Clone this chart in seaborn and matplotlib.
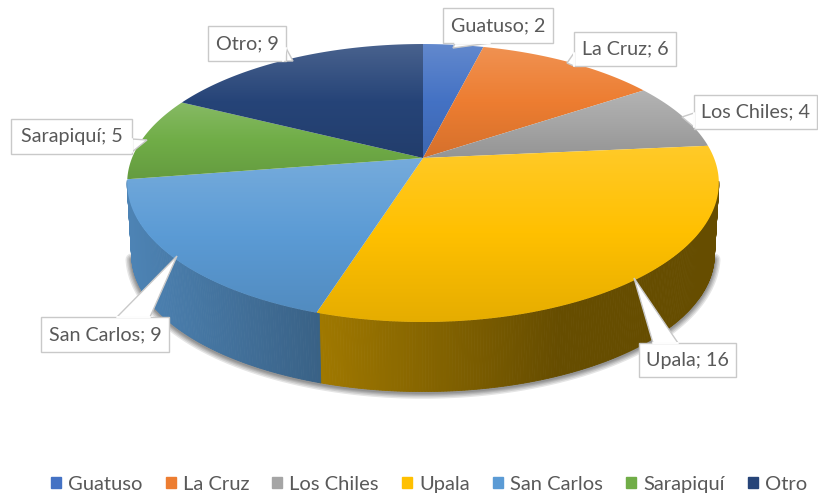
import numpy as np
import seaborn as sns
import matplotlib.pyplot as plt
from matplotlib.patches import Patch, Polygon

# data
cantones = ['Guatuso', 'La Cruz', 'Los Chiles', 'Upala', 'San Carlos', 'Sarapiquí', 'Otro']
valores = [2, 6, 4, 16, 9, 5, 9]
colores = ['#4472C4', '#ED7D31', '#A5A5A5', '#FFC000', '#5B9BD5', '#70AD47', '#264478']

# label boxes (x0, x1, y0, y1) and their little callout tails, in pixels
cajas = {
    'Guatuso': (443, 553, 8, 43),
    'La Cruz': (574, 676, 32, 66),
    'Los Chiles': (694, 817, 95, 129),
    'Upala': (639, 736, 343, 377),
    'San Carlos': (41, 169, 317, 352),
    'Sarapiquí': (11, 132, 119, 154),
    'Otro': (208, 286, 26, 61),
}
colas = {
    'Guatuso': [(490, 43), (453, 48), (455, 43)],
    'La Cruz': [(574, 66), (567, 63), (574, 53)],
    'Los Chiles': [(694, 127), (682, 117), (694, 113)],
    'Upala': [(653, 343), (634, 278), (678, 343)],
    'San Carlos': [(117, 317), (177, 256), (150, 317)],
    'Sarapiquí': [(132, 152), (147, 140), (132, 139)],
    'Otro': [(286, 48), (293, 61), (283, 61)],
}

sns.set_theme(style='white')
plt.rcParams['font.family'] = ['Lato', 'DejaVu Sans']
paleta = sns.color_palette(colores)

fig, ax = plt.subplots(figsize=(8.18, 4.98), dpi=100)
ax.set_position([0, 0, 1, 1])

# pie gives the slice angles, then it gets redrawn in perspective
wedges, _ = ax.pie(valores, startangle=90, counterclock=False)
angulos = [(w.theta1, w.theta2) for w in wedges]
for w in wedges:
    w.remove()
ax.set_aspect('auto')

# perspective of the disc
cx, cy = 423, 158
k, a, b = 0.18, 134.5, 291.0


def proyecta(theta, escala=1.0, dy=0.0):
    t = np.radians(theta)
    u, v = np.cos(t), np.sin(t)
    d = 1 + k * v
    return cx + escala * b * u / d, cy - escala * a * v / d + dy


def sombra_lado(x):
    return np.interp(x, [127, 317, 560, 719], [0.85, 0.63, 0.40, 0.40])


ESC, PROF = 0.985, 72

# soft shadow under the rim
th = np.linspace(-12, -168, 200)
xs, ys = proyecta(th, ESC, PROF)
for lw in [9, 7, 5, 3.5, 2]:
    ax.plot(xs, ys + 1, color='black', alpha=0.1, lw=lw, solid_capstyle='round', zorder=1)

# side wall, only the part in front of the silhouette
for (t1, t2), col in zip(angulos, paleta):
    ts = np.arange(t1, t2 + 0.5, 0.5)
    ts = ts[np.sin(np.radians(ts)) < -0.16]
    for p, q in zip(ts[:-1], ts[1:]):
        x1, y1 = proyecta(p)
        x2, y2 = proyecta(q)
        x3, y3 = proyecta(q, ESC, PROF)
        x4, y4 = proyecta(p, ESC, PROF)
        c = np.array(col) * sombra_lado((x1 + x2) / 2)
        ax.fill([x1, x2, x3, x4], [y1, y2, y3, y4], color=c, lw=0.6, zorder=2)

# top of the disc, each slice with its own vertical gradient
for (t1, t2), col in zip(angulos, paleta):
    ts = np.linspace(t1, t2, 120)
    xs, ys = proyecta(ts)
    xs = np.r_[cx, xs]
    ys = np.r_[cy, ys]
    base = np.array(col)
    f = np.linspace(0, 1, 128)[:, None]
    claro = base + (1 - base) * 0.16
    oscuro = base * 0.9
    grad = np.where(f < 0.5, claro + (base - claro) * f / 0.5, base + (oscuro - base) * (f - 0.5) / 0.5)
    forma = Polygon(np.c_[xs, ys], closed=True, fc='none', ec='none', transform=ax.transData)
    ax.add_patch(forma)
    im = ax.imshow(grad[:, None, :].reshape(128, 1, 3), extent=(xs.min(), xs.max(), ys.max(), ys.min()),
                   aspect='auto', origin='upper', zorder=3)
    im.set_clip_path(forma)

# labels
for nombre, valor in zip(cantones, valores):
    x0, x1, y0, y1 = cajas[nombre]
    ax.fill(*zip(*colas[nombre]), fc='white', ec='#C9C9C9', lw=1, zorder=4)
    ax.fill([x0, x1, x1, x0], [y0, y0, y1, y1], fc='white', ec='#C9C9C9', lw=1, zorder=5)
    p0, _, p2 = colas[nombre]
    ax.plot([p0[0], p2[0]], [p0[1], p2[1]], color='white', lw=1.4, zorder=6)
    ax.text((x0 + x1) / 2, (y0 + y1) / 2, f'{nombre}; {valor}', ha='center', va='center',
            color='#595959', fontsize=14.2, zorder=7)

ax.set_xlim(0, 818)
ax.set_ylim(498, 0)
ax.axis('off')

handles = [Patch(color=c, label=n) for n, c in zip(cantones, paleta)]
ax.legend(handles=handles, loc='center', bbox_to_anchor=(429 / 818, 1 - 484 / 498), ncol=7, frameon=False,
          fontsize=14.5, labelcolor='#595959', handlelength=0.5, handleheight=0.5, handletextpad=0.35,
          columnspacing=1.15, borderpad=0)

fig.savefig('out.png', dpi=100)
